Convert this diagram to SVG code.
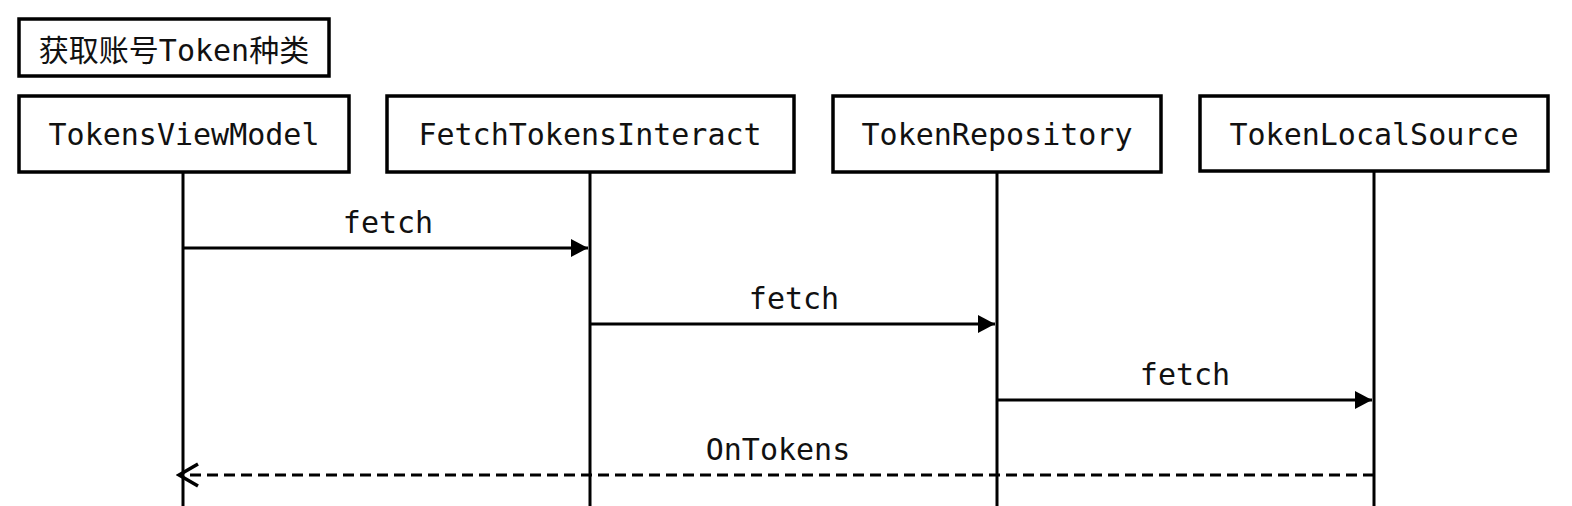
<svg xmlns="http://www.w3.org/2000/svg" width="1572" height="506" viewBox="0 0 1572 506">
<style>
.box{fill:#fff;stroke:#000;stroke-width:3.5}
.life{stroke:#000;stroke-width:3}
.msg{stroke:#000;stroke-width:3;fill:none}
.dash{stroke-dasharray:11 6}
text{font-family:"DejaVu Sans Mono","Liberation Mono","Noto Sans CJK SC",monospace;font-size:30px;fill:#111;text-anchor:middle}
</style>
<defs>
<marker id="filled" markerUnits="userSpaceOnUse" markerWidth="20" markerHeight="20" refX="18" refY="10" orient="auto">
<path d="M1,1 L18,10 L1,19 Z" fill="#000"/>
</marker>
<marker id="open" markerUnits="userSpaceOnUse" markerWidth="24" markerHeight="26" refX="21" refY="13" orient="auto">
<path d="M2,2 L21,13 L2,24" fill="none" stroke="#000" stroke-width="3.5"/>
</marker>
</defs>
<rect width="1572" height="506" fill="#fff"/>
<g id="title">
<rect class="box" x="19" y="19" width="310" height="57"/>
<text x="174" y="61" style="font-family:'DejaVu Sans Mono','Noto Sans CJK SC',monospace">获取账号Token种类</text>
</g>
<g id="lifelines">
<line class="life" x1="183" y1="172" x2="183" y2="506"/>
<line class="life" x1="590" y1="172" x2="590" y2="506"/>
<line class="life" x1="997" y1="172" x2="997" y2="506"/>
<line class="life" x1="1374" y1="172" x2="1374" y2="506"/>
</g>
<g id="node-TokensViewModel">
<rect class="box" x="19" y="96" width="330" height="76"/>
<text x="184" y="145">TokensViewModel</text>
</g>
<g id="node-FetchTokensInteract">
<rect class="box" x="387" y="96" width="407" height="76"/>
<text x="590" y="145">FetchTokensInteract</text>
</g>
<g id="node-TokenRepository">
<rect class="box" x="833" y="96" width="328" height="76"/>
<text x="997" y="145">TokenRepository</text>
</g>
<g id="node-TokenLocalSource">
<rect class="box" x="1200" y="96" width="348" height="75"/>
<text x="1374" y="145">TokenLocalSource</text>
</g>
<g id="connectors">
<line class="msg" x1="183" y1="248" x2="588" y2="248" marker-end="url(#filled)"/>
<line class="msg" x1="590" y1="324" x2="995" y2="324" marker-end="url(#filled)"/>
<line class="msg" x1="997" y1="400" x2="1372" y2="400" marker-end="url(#filled)"/>
<line class="msg dash" x1="1374" y1="475" x2="179" y2="475" marker-end="url(#open)"/>
<text x="388" y="233">fetch</text>
<text x="794" y="309">fetch</text>
<text x="1185" y="385">fetch</text>
<text x="778" y="460">OnTokens</text>
</g>
</svg>
